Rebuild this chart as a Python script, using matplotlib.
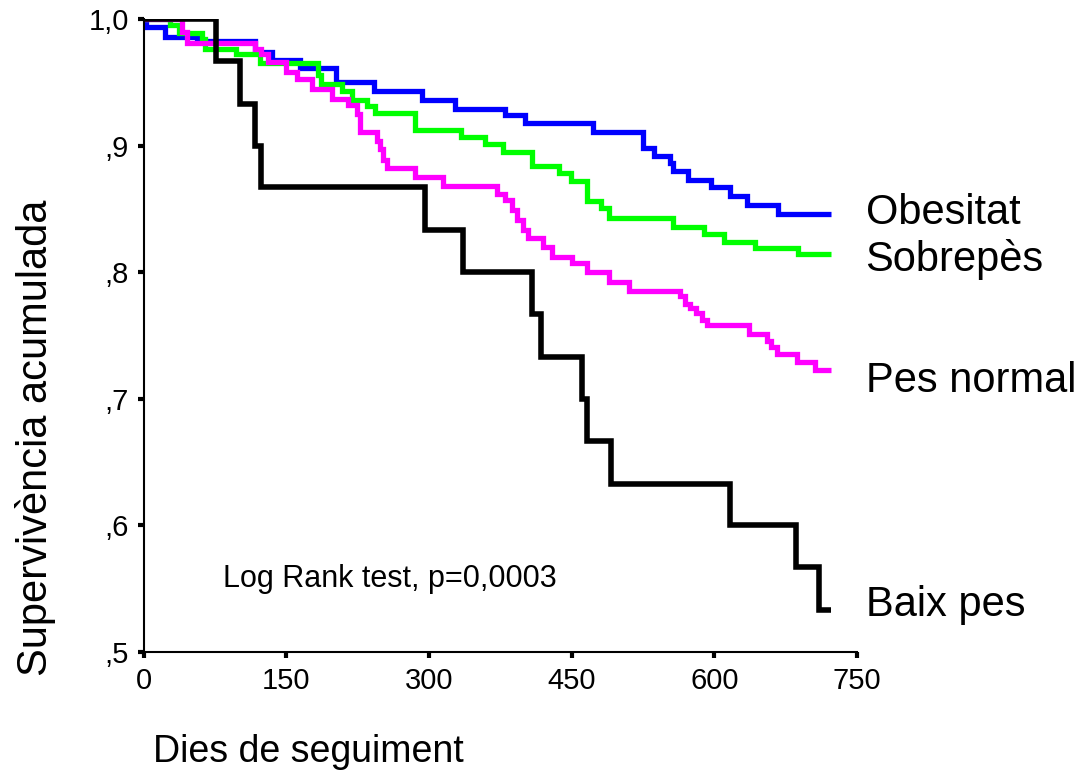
import matplotlib
matplotlib.use("Agg")
import matplotlib.pyplot as plt

plt.rcParams['font.family'] = ['Liberation Sans', 'DejaVu Sans']

# ---- data (days, cumulative survival) ----
obes_t = [0, 3, 23, 56, 117, 135, 164, 202, 242, 293, 327, 380, 401, 473, 525, 537, 553, 557, 572, 597, 616, 634, 667, 723]
obes_s = [1.0, .994, .986, .983, .974, .968, .961, .950, .943, .936, .929, .924, .918, .911, .898, .892, .886, .880, .873, .867, .860, .853, .846, .846]

sobre_t = [0, 28, 37, 61, 65, 97, 122, 183, 187, 209, 219, 235, 243, 285, 334, 359, 378, 408, 437, 449, 466, 481, 489, 557, 589, 610, 643, 688, 723]
sobre_s = [1.0, .995, .989, .984, .976, .972, .965, .956, .949, .943, .936, .931, .926, .912, .907, .901, .895, .884, .878, .872, .856, .851, .843, .836, .830, .824, .819, .814, .814]

normal_t = [0, 40, 46, 117, 124, 131, 150, 161, 177, 198, 215, 224, 228, 245, 249, 252, 256, 285, 315, 372, 380, 387, 393, 399, 404, 420, 429, 450, 466, 489, 510, 564, 569, 574, 581, 587, 592, 636, 655, 660, 666, 687, 706, 723]
normal_s = [1.0, .990, .981, .976, .972, .966, .958, .953, .945, .937, .932, .925, .911, .904, .897, .889, .882, .875, .868, .862, .857, .849, .841, .833, .827, .820, .812, .807, .800, .792, .785, .781, .775, .772, .768, .762, .758, .751, .746, .741, .735, .729, .723, .723]

baix_t = [0, 76, 101, 117, 124, 296, 336, 408, 418, 461, 466, 491, 616, 686, 710, 723]
baix_s = [1.0, .967, .933, .900, .867, .833, .800, .767, .733, .700, .667, .633, .600, .567, .533, .533]

labels = ["Obesitat", "Sobrepès", "Pes normal", "Baix pes"]
label_y = [0.847, 0.810, 0.714, 0.537]
colors = ["#0000ff", "#00ff00", "#ff00ff", "#000000"]
xticks = [0, 150, 300, 450, 600, 750]
yticks = [0.5, 0.6, 0.7, 0.8, 0.9, 1.0]
yticklabels = [",5", ",6", ",7", ",8", ",9", "1,0"]

fig = plt.figure(figsize=(10.84, 7.76), dpi=100)
ax = fig.add_axes([0.1324, 0.1598, 0.6582, 0.8157])

series = [(obes_t, obes_s), (sobre_t, sobre_s), (normal_t, normal_s), (baix_t, baix_s)]
lws = [3.8, 3.8, 3.8, 4.0]
for (t, s), c, lw in zip(series, colors, lws):
    ax.step(t, s, where='post', color=c, lw=lw, solid_joinstyle='miter', solid_capstyle='butt')

ax.set_xlim(0, 750)
ax.set_ylim(0.5, 1.0)
ax.set_xticks(xticks)
ax.set_xticklabels([str(v) for v in xticks])
ax.set_yticks(yticks)
ax.set_yticklabels(yticklabels)
for sp in ['top', 'right']:
    ax.spines[sp].set_visible(False)
for sp in ['left', 'bottom']:
    ax.spines[sp].set_linewidth(1.5)
ax.tick_params(axis='both', direction='out', labelsize=21, width=3, length=4.5, pad=6)

# curve labels at the right
for lab, yv in zip(labels, label_y):
    ax.annotate(lab, xy=(1.012, yv), xycoords=('axes fraction', 'data'),
                fontsize=30, ha='left', va='center', annotation_clip=False)

ax.text(84, 0.558, "Log Rank test, p=0,0003", fontsize=22, ha='left', va='center')

fig.text(0.141, 0.031, "Dies de seguiment", fontsize=27, ha='left', va='center')
fig.text(0.033, 0.436, "Supervivència acumulada", fontsize=30, rotation=90, ha='center', va='center')

fig.savefig("out.png", dpi=100, facecolor='white')
